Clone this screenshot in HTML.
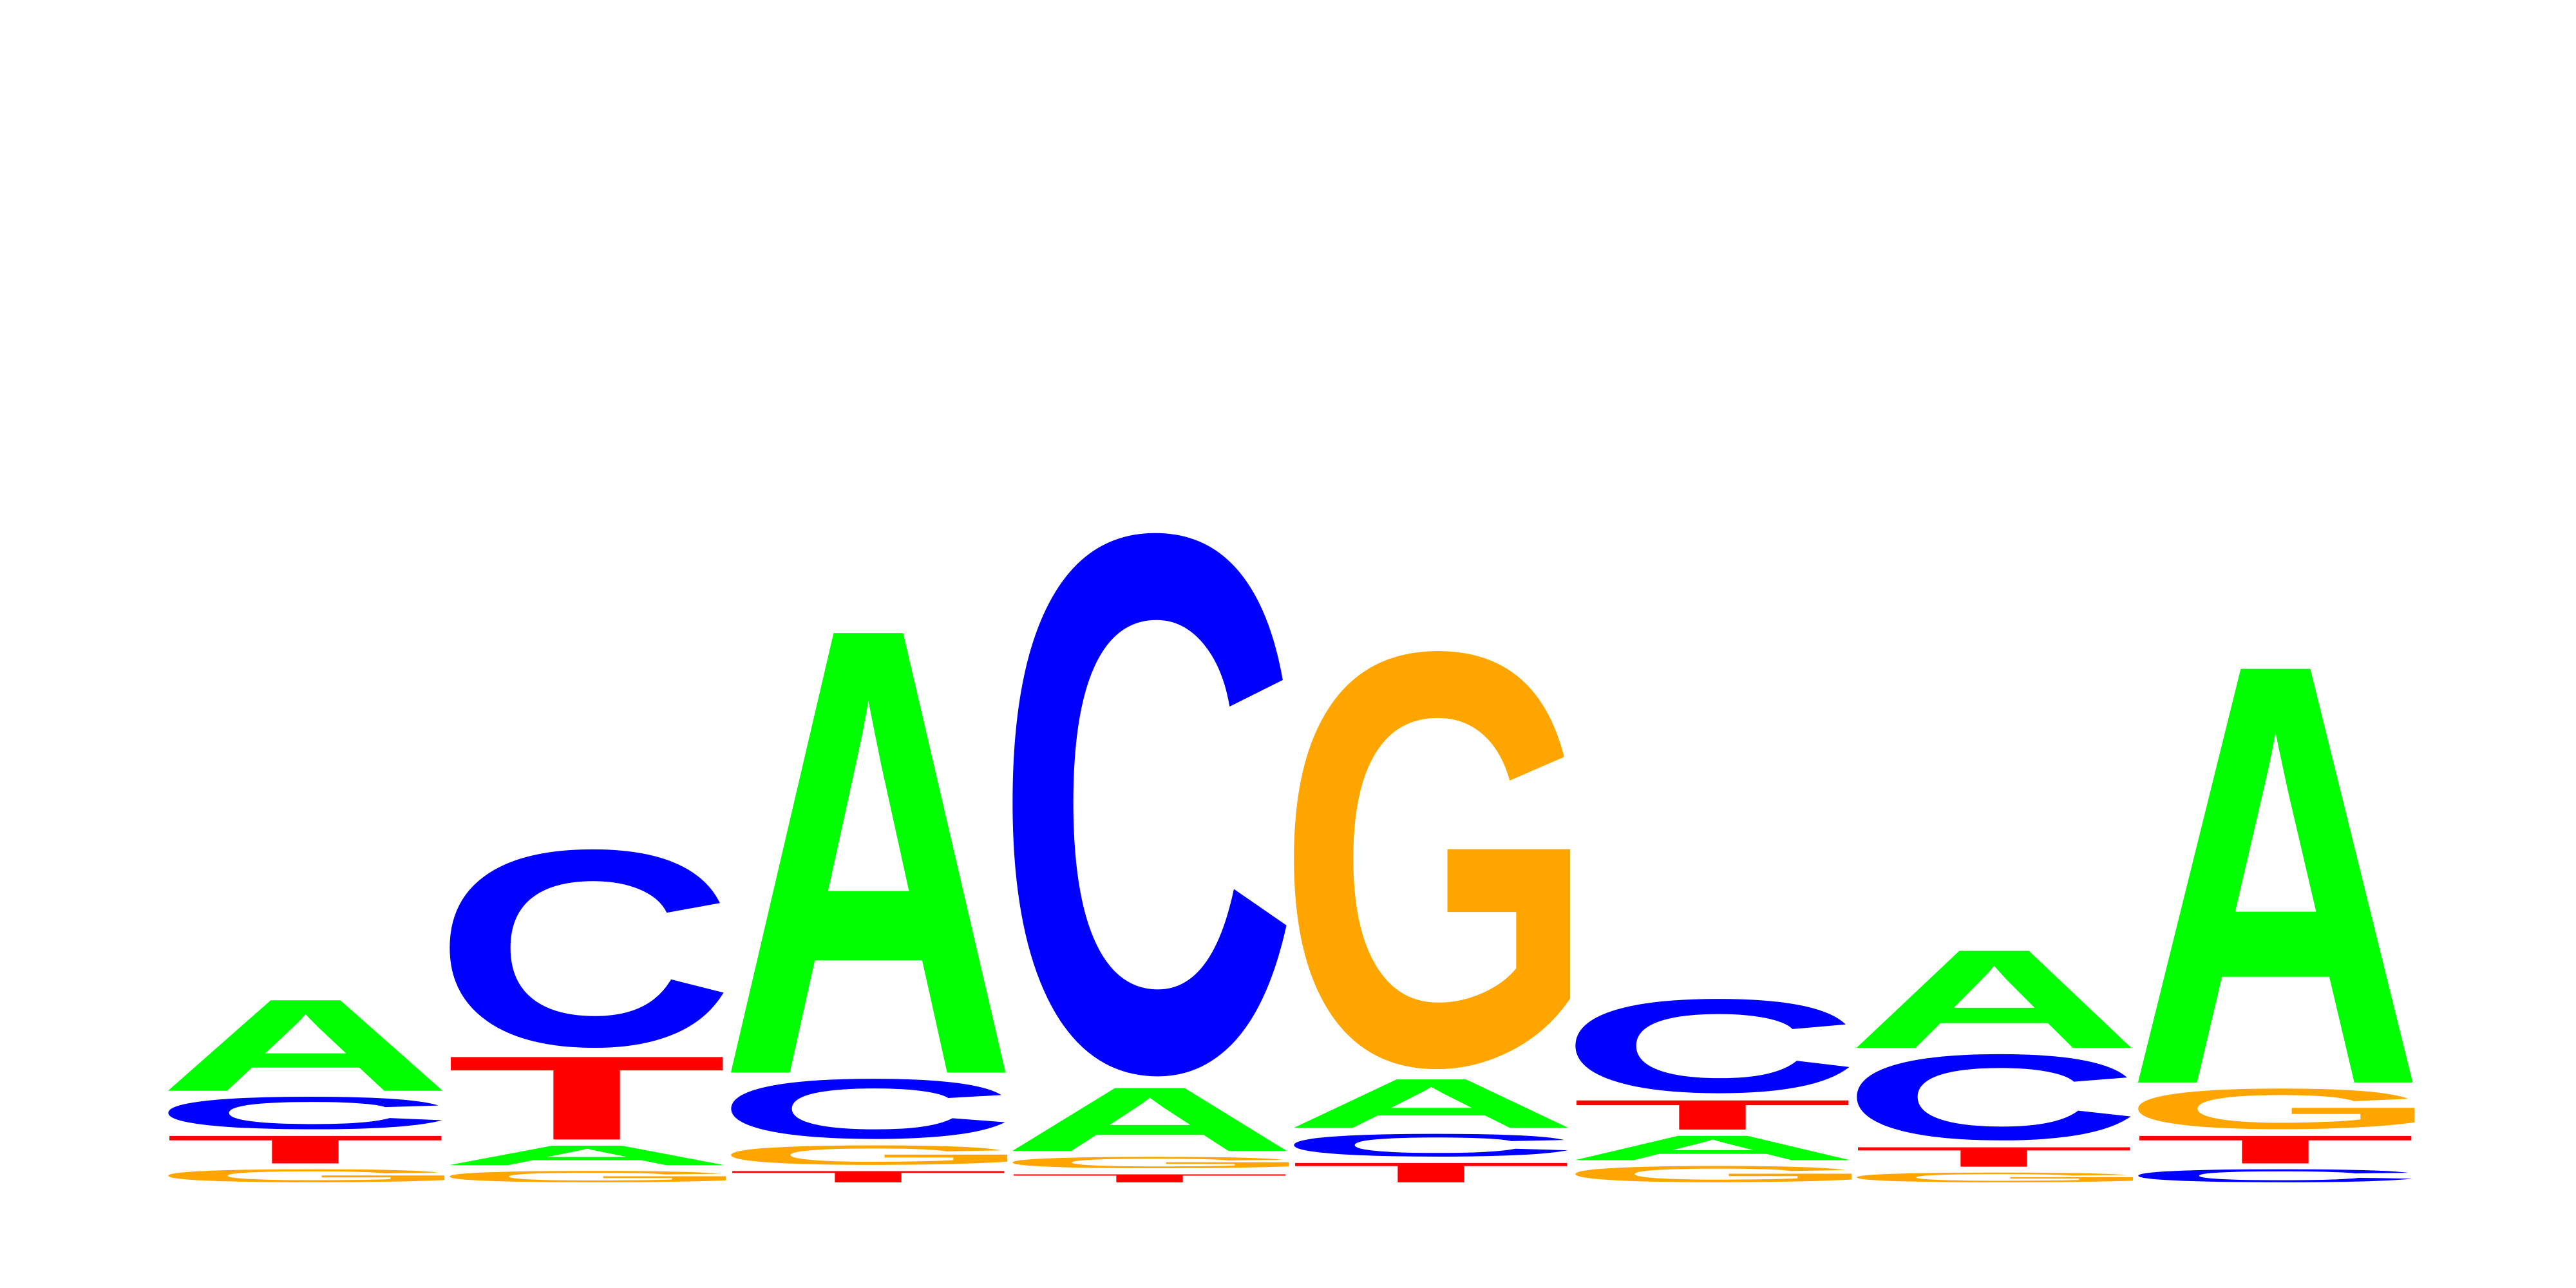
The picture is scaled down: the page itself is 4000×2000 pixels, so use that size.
<!DOCTYPE html>
<html><head><meta charset="utf-8"><style>
html,body{margin:0;padding:0;background:#fff;}
svg{display:block;}
</style></head><body>
<svg id="logo" width="4000" height="2000" viewBox="0 0 4000 2000" xmlns="http://www.w3.org/2000/svg">
<rect width="4000" height="2000" fill="#fff"/>
<g id="stacks"></g>
</svg>
<script>
// Positions 1..8, letters bottom-to-top, heights in bits
const positions = [1,2,3,4,5,6,7,8];
const letters = [
  ['G','T','C','A'],
  ['G','A','T','C'],
  ['T','G','C','A'],
  ['T','G','A','C'],
  ['T','C','A','G'],
  ['G','A','T','C'],
  ['G','T','C','A'],
  ['C','T','G','A']
];
const heights = [
  [0.08,0.17,0.20,0.56],
  [0.07,0.12,0.51,1.22],
  [0.07,0.12,0.37,2.72],
  [0.05,0.07,0.39,3.34],
  [0.12,0.14,0.30,2.57],
  [0.10,0.15,0.18,0.58],
  [0.06,0.12,0.53,0.60],
  [0.08,0.17,0.25,2.56]
];
const gapBits = 0.035;

const X0 = 255, COLW = 437, BASE = 1836, PX_PER_BIT = 256.4;
function xPos(i){ return X0 + i*COLW; }
function yPos(bits){ return BASE - bits*PX_PER_BIT; }

const colors = {A:'#00ff00', C:'#0000ff', G:'#ffa500', T:'#ff0000'};
const FONT = '"Liberation Sans", Arial, sans-serif';
const cv = document.createElement('canvas');
const ctx = cv.getContext('2d');
ctx.font = 'bold 1000px ' + FONT;
const metrics = {};
['A','C','G','T'].forEach(L => {
  const m = ctx.measureText(L);
  metrics[L] = {
    l: -m.actualBoundingBoxLeft,
    r: m.actualBoundingBoxRight,
    t: m.actualBoundingBoxAscent,
    b: -m.actualBoundingBoxDescent
  };
});
const NS = 'http://www.w3.org/2000/svg';
const g = document.getElementById('stacks');
positions.forEach((p, i) => {
  let acc = 0;
  letters[i].forEach((L, j) => {
    const h = heights[i][j];
    const bot = yPos(acc);
    const top = yPos(acc + h);
    acc += h + gapBits;
    const m = metrics[L];
    const sx = COLW / (m.r - m.l);
    const sy = (bot - top) / (m.t - m.b);
    const tx = xPos(i) - m.l*sx;
    const ty = bot + m.b*sy;
    const t = document.createElementNS(NS, 'text');
    
    
    t.setAttribute('font-family', FONT);
    t.setAttribute('font-weight', 'bold');
    t.setAttribute('font-size', '1000');
    t.setAttribute('fill', colors[L]);
    t.setAttribute('transform', 'translate(' + tx + ',' + ty + ') scale(' + sx + ',' + sy + ')');
    t.textContent = L;
    g.appendChild(t);
  });
});
</script>
</body></html>
